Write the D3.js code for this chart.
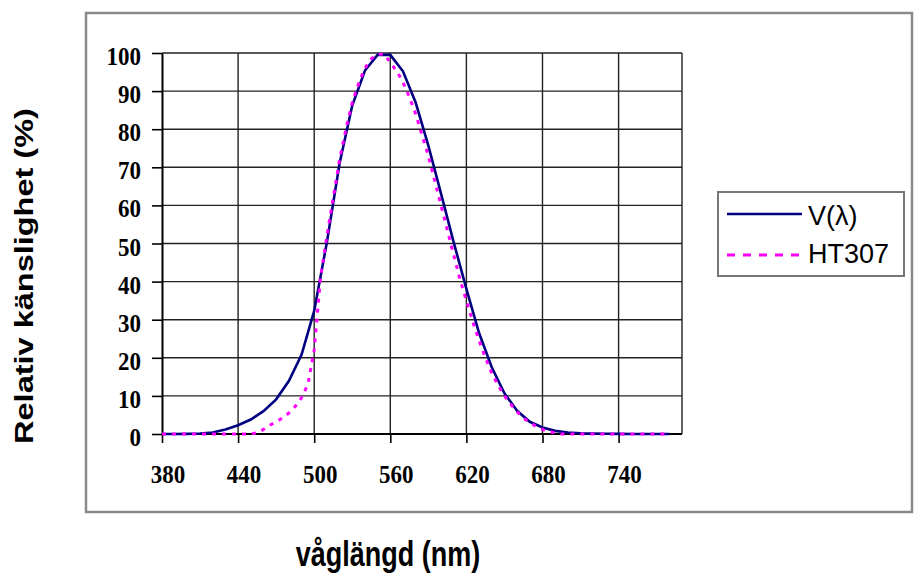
<!DOCTYPE html>
<html><head><meta charset="utf-8">
<script src="https://cdn.jsdelivr.net/npm/d3@7"></script>
<style>body{margin:0;background:#fff} svg{display:block}</style>
</head><body><svg id="c" width="915" height="576"></svg>
<script>
// ---- data ----
const vLambda = [380,390,400,410,420,430,440,450,460,470,480,490,500,510,520,530,540,550,560,570,580,590,600,610,620,630,640,650,660,670,680,690,700,710,720,730,740,750,760,770,780];
const vValues = [0.004,0.012,0.04,0.12,0.4,1.16,2.3,3.8,6.0,9.1,13.9,20.8,32.3,50.3,71.0,86.2,95.4,99.5,99.5,95.2,87.0,75.7,63.1,50.3,38.1,26.5,17.5,10.7,6.1,3.2,1.7,0.82,0.41,0.21,0.1,0.05,0.025,0.012,0.006,0.003,0.0015];
const htLambda = [380,385,390,395,400,405,410,415,420,425,430,435,440,445,450,455,460,465,470,475,480,485,490,495,500,505,510,515,520,525,530,535,540,545,550,555,560,565,570,575,580,585,590,595,600,605,610,615,620,625,630,635,640,645,650,655,660,665,670,675,680,685,690,695,700,705,710,715,720,725,730,735,740,745,750,755,760,765,770,775,780];
const htValues = [0,0,0,0,0,0,0,0,0,0,0,0,0,0,0,0.3,1.2,2.3,3.2,4.2,5.5,7.2,9.5,13,22,41,52,62,72,80,87,92,96,98.5,99.6,99.8,97.5,95.3,92.3,88.5,84,78.5,73,66.5,60,53.5,47,40.5,35,29.5,24.5,20,16,12.8,10,7.8,5.8,4.2,3,2,1.2,0.6,0.3,0,0,0,0,0,0,0,0,0,0,0,0,0,0,0,0,0,0];
const xTicks = [380,440,500,560,620,680,740];
const yTicks = [0,10,20,30,40,50,60,70,80,90,100];
const seriesNames = ["V(λ)","HT307"];
const xTitle = "våglängd (nm)";
const yTitle = "Relativ känslighet (%)";

// ---- chart ----
const svg = d3.select("#c");
const x = d3.scaleLinear().domain([380,790]).range([162,682]);
const y = d3.scaleLinear().domain([0,100]).range([434,53]);
const serif = "'Liberation Serif','Times New Roman',serif";
const sans = "'Liberation Sans',Arial,sans-serif";

// chart area border
svg.append("rect").attr("x",86).attr("y",13).attr("width",826).attr("height",499)
  .attr("fill","#fff").attr("stroke","#8a8a8a").attr("stroke-width",2.5);

// gridlines
const grid = svg.append("g").attr("stroke","#222").attr("stroke-width",1.4);
grid.selectAll("line.h").data(yTicks.filter(d=>d>0)).join("line")
  .attr("x1",x(380)).attr("x2",x(790)).attr("y1",d=>y(d)).attr("y2",d=>y(d));
grid.selectAll("line.v").data(xTicks.filter(d=>d>380).concat([790])).join("line")
  .attr("y1",y(0)).attr("y2",y(100)).attr("x1",d=>x(d)).attr("x2",d=>x(d));

// axes
const yAxis = svg.append("g").attr("transform",`translate(${x(380)},0)`)
  .call(d3.axisLeft(y).tickValues(yTicks).tickSize(10).tickFormat(()=>"").tickSizeOuter(0));
yAxis.select(".domain").attr("stroke","#000").attr("stroke-width",2);
yAxis.selectAll(".tick line").attr("stroke","#000").attr("stroke-width",1.6);
svg.append("g").selectAll("text").data(yTicks).join("text")
  .attr("transform",d=>`translate(141,${y(d)+12}) scale(1,1.1)`)
  .attr("text-anchor","end")
  .style("font-family",serif).style("font-weight","bold").style("font-size","23px").attr("fill","#000")
  .text(d=>d);

const xAxis = svg.append("g").attr("transform",`translate(0,${y(0)})`)
  .call(d3.axisBottom(x).tickValues(xTicks).tickSize(9).tickFormat(()=>"").tickSizeOuter(0));
xAxis.select(".domain").attr("stroke","#000").attr("stroke-width",2).attr("d",`M${x(380)},0H${x(790)}`);
xAxis.selectAll(".tick line").attr("stroke","#000").attr("stroke-width",1.6);
svg.append("g").selectAll("text").data(xTicks).join("text")
  .attr("transform",d=>`translate(${x(d)+6},${y(0)+49}) scale(1,1.1)`)
  .attr("text-anchor","middle")
  .style("font-family",serif).style("font-weight","bold").style("font-size","23px").attr("fill","#000")
  .text(d=>d);

// lines
const line = d3.line().x(d=>x(d[0])).y(d=>y(d[1]));
svg.append("path").datum(vLambda.map((l,i)=>[l,vValues[i]]))
  .attr("d",line).attr("fill","none").attr("stroke","#000080").attr("stroke-width",2.6);
svg.append("path").datum(htLambda.map((l,i)=>[l,htValues[i]]))
  .attr("d",line).attr("fill","none").attr("stroke","#ff00ff").attr("stroke-width",3)
  .attr("stroke-dasharray","4,6");

// legend
const lg = svg.append("g");
lg.append("rect").attr("x",718).attr("y",192).attr("width",186).attr("height",84)
  .attr("fill","#fff").attr("stroke","#777").attr("stroke-width",2);
lg.append("line").attr("x1",727).attr("x2",802).attr("y1",214).attr("y2",214)
  .attr("stroke","#000080").attr("stroke-width",2.6);
lg.append("line").attr("x1",727).attr("x2",802).attr("y1",255).attr("y2",255)
  .attr("stroke","#ff00ff").attr("stroke-width",3).attr("stroke-dasharray","8,8");
lg.selectAll("text").data(seriesNames).join("text")
  .attr("x",808).attr("y",(d,i)=>i===0?225:263)
  .style("font-family",sans).style("font-size","27px").attr("fill","#000")
  .text(d=>d);

// titles
svg.append("text").attr("transform","translate(388,566) scale(1,1.27)").attr("text-anchor","middle")
  .style("font-family",sans).style("font-weight","bold").style("font-size","27px")
  .text(xTitle);
svg.append("text").attr("transform","translate(33,276) rotate(-90) scale(1.3,1)").attr("text-anchor","middle")
  .style("font-family",sans).style("font-weight","bold").style("font-size","25px")
  .text(yTitle);
</script></body></html>
